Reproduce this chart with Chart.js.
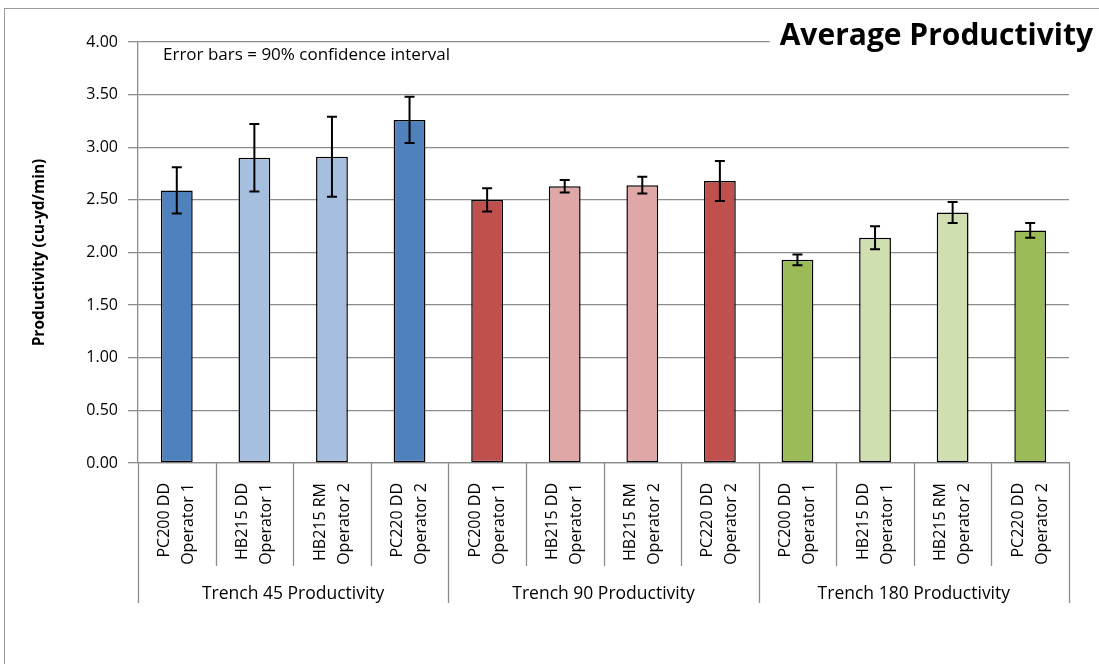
<!DOCTYPE html>
<html>
<head>
<meta charset="utf-8">
<script src="https://cdn.jsdelivr.net/npm/chart.js@4/dist/chart.umd.min.js"></script>
<style>
    body { margin: 0; background: #fff; }
    canvas { display: block; }
</style>
</head>
<body>
<canvas id="chart" width="1099" height="664"></canvas>
<script>
// ---------------------------------------------------------------------------- data
const categories = [
    ['PC200 DD', 'Operator 1'], ['HB215 DD', 'Operator 1'], ['HB215 RM', 'Operator 2'], ['PC220 DD', 'Operator 2'],
    ['PC200 DD', 'Operator 1'], ['HB215 DD', 'Operator 1'], ['HB215 RM', 'Operator 2'], ['PC220 DD', 'Operator 2'],
    ['PC200 DD', 'Operator 1'], ['HB215 DD', 'Operator 1'], ['HB215 RM', 'Operator 2'], ['PC220 DD', 'Operator 2']
];
const groups = ['Trench 45 Productivity', 'Trench 90 Productivity', 'Trench 180 Productivity'];
const values = [2.59, 2.90, 2.91, 3.26, 2.50, 2.63, 2.64, 2.68, 1.93, 2.14, 2.38, 2.21];
// half width of the 90% confidence interval
const errors = [0.22, 0.32, 0.38, 0.22, 0.11, 0.06, 0.08, 0.19, 0.05, 0.11, 0.10, 0.07];
const barColors = [
    '#4F81BD', '#A7BFDE', '#A7BFDE', '#4F81BD',
    '#C0504D', '#DFA7A6', '#DFA7A6', '#C0504D',
    '#9BBB59', '#D0DFB0', '#D0DFB0', '#9BBB59'
];
const chartTitle = 'Average Productivity';
const noteText = 'Error bars = 90% confidence interval';
const yTitle = 'Productivity (cu-yd/min)';

const FONT = '"Open Sans", "Liberation Sans", sans-serif';
const GRID = '#8c8c8c';

// ---------------------------------------------------------------------------- extras (error bars, axis boxes, titles)
const extras = {
    id: 'extras',
    afterDatasetsDraw(chart) {
        const ctx = chart.ctx;
        const x = chart.scales.x, y = chart.scales.y;
        ctx.save();
        ctx.strokeStyle = '#000';
        ctx.lineWidth = 2;
        values.forEach((v, i) => {
            const px = x.getPixelForValue(i);
            const hi = y.getPixelForValue(v + errors[i]);
            const lo = y.getPixelForValue(v - errors[i]);
            ctx.beginPath();
            ctx.moveTo(px, hi); ctx.lineTo(px, lo);
            ctx.moveTo(px - 5, hi); ctx.lineTo(px + 5, hi);
            ctx.moveTo(px - 5, lo); ctx.lineTo(px + 5, lo);
            ctx.stroke();
        });
        ctx.restore();
    },
    afterDraw(chart) {
        const ctx = chart.ctx;
        const x = chart.scales.x;
        const area = chart.chartArea;
        const n = categories.length;
        const half = (x.getPixelForValue(1) - x.getPixelForValue(0)) / 2;
        ctx.save();

        // separators under the axis
        ctx.strokeStyle = GRID;
        ctx.lineWidth = 1.3;
        for (let i = 0; i <= n; i++) {
            const px = Math.round(x.getPixelForValue(0) - half + i * 2 * half) + 0.5;
            ctx.beginPath();
            ctx.moveTo(px, area.bottom);
            ctx.lineTo(px, i % 4 === 0 ? 603 : 566);
            ctx.stroke();
        }

        // group labels
        ctx.fillStyle = '#000';
        ctx.font = '17.5px ' + FONT;
        ctx.textAlign = 'center';
        ctx.textBaseline = 'middle';
        groups.forEach((g, k) => {
            const cx = (x.getPixelForValue(k * 4) + x.getPixelForValue(k * 4 + 3)) / 2;
            ctx.fillText(g, cx, 594);
        });

        // note in the plot
        ctx.textAlign = 'left';
        ctx.font = '17px ' + FONT;
        ctx.fillText(noteText, 163, 55);

        // title over the top gridline
        ctx.font = 'bold 30px ' + FONT;
        const w = ctx.measureText(chartTitle).width;
        ctx.fillStyle = '#fff';
        ctx.fillRect(1093 - w - 10, 16, w + 12, 40);
        ctx.fillStyle = '#000';
        ctx.textAlign = 'right';
        ctx.fillText(chartTitle, 1093, 36);

        // outer frame
        ctx.strokeStyle = '#9a9a9a';
        ctx.lineWidth = 1;
        ctx.strokeRect(4.5, 8.5, 1200, 1000);
        ctx.restore();
    }
};

// ---------------------------------------------------------------------------- chart
const ctx = document.getElementById('chart').getContext('2d');
const myChart = new Chart(ctx, {
    type: 'bar',
    data: {
        labels: categories,
        datasets: [{
            data: values,
            backgroundColor: barColors,
            borderColor: '#000',
            borderWidth: 1.5,
            borderSkipped: false,
            categoryPercentage: 1,
            barPercentage: 0.41
        }]
    },
    options: {
        responsive: false,
        animation: false,
        devicePixelRatio: 1,
        layout: {
            padding: { left: 10, top: 42, right: 30, bottom: 61 }
        },
        plugins: {
            legend: { display: false },
            tooltip: { enabled: false }
        },
        scales: {
            x: {
                grid: { display: false },
                border: { color: GRID, width: 1.3 },
                ticks: {
                    autoSkip: false,
                    minRotation: 90,
                    maxRotation: 90,
                    padding: 12,
                    labelOffset: -12,
                    color: '#000',
                    font: { family: FONT, size: 16, lineHeight: 1.5 }
                },
                afterFit: (scale) => { scale.height = 140; }
            },
            y: {
                min: 0,
                max: 4,
                ticks: {
                    stepSize: 0.5,
                    padding: 10,
                    color: '#000',
                    font: { family: FONT, size: 16 },
                    callback: (v) => v.toFixed(2)
                },
                grid: { color: GRID, lineWidth: 1.3, tickLength: 10 },
                border: { color: GRID, width: 1.3 },
                title: {
                    display: true,
                    text: yTitle,
                    color: '#000',
                    padding: { top: 20, bottom: 0 },
                    font: { family: FONT, size: 15.5, weight: 'bold' }
                },
                afterFit: (scale) => { scale.width = 128; }
            }
        }
    },
    plugins: [extras]
});
</script>
</body>
</html>
